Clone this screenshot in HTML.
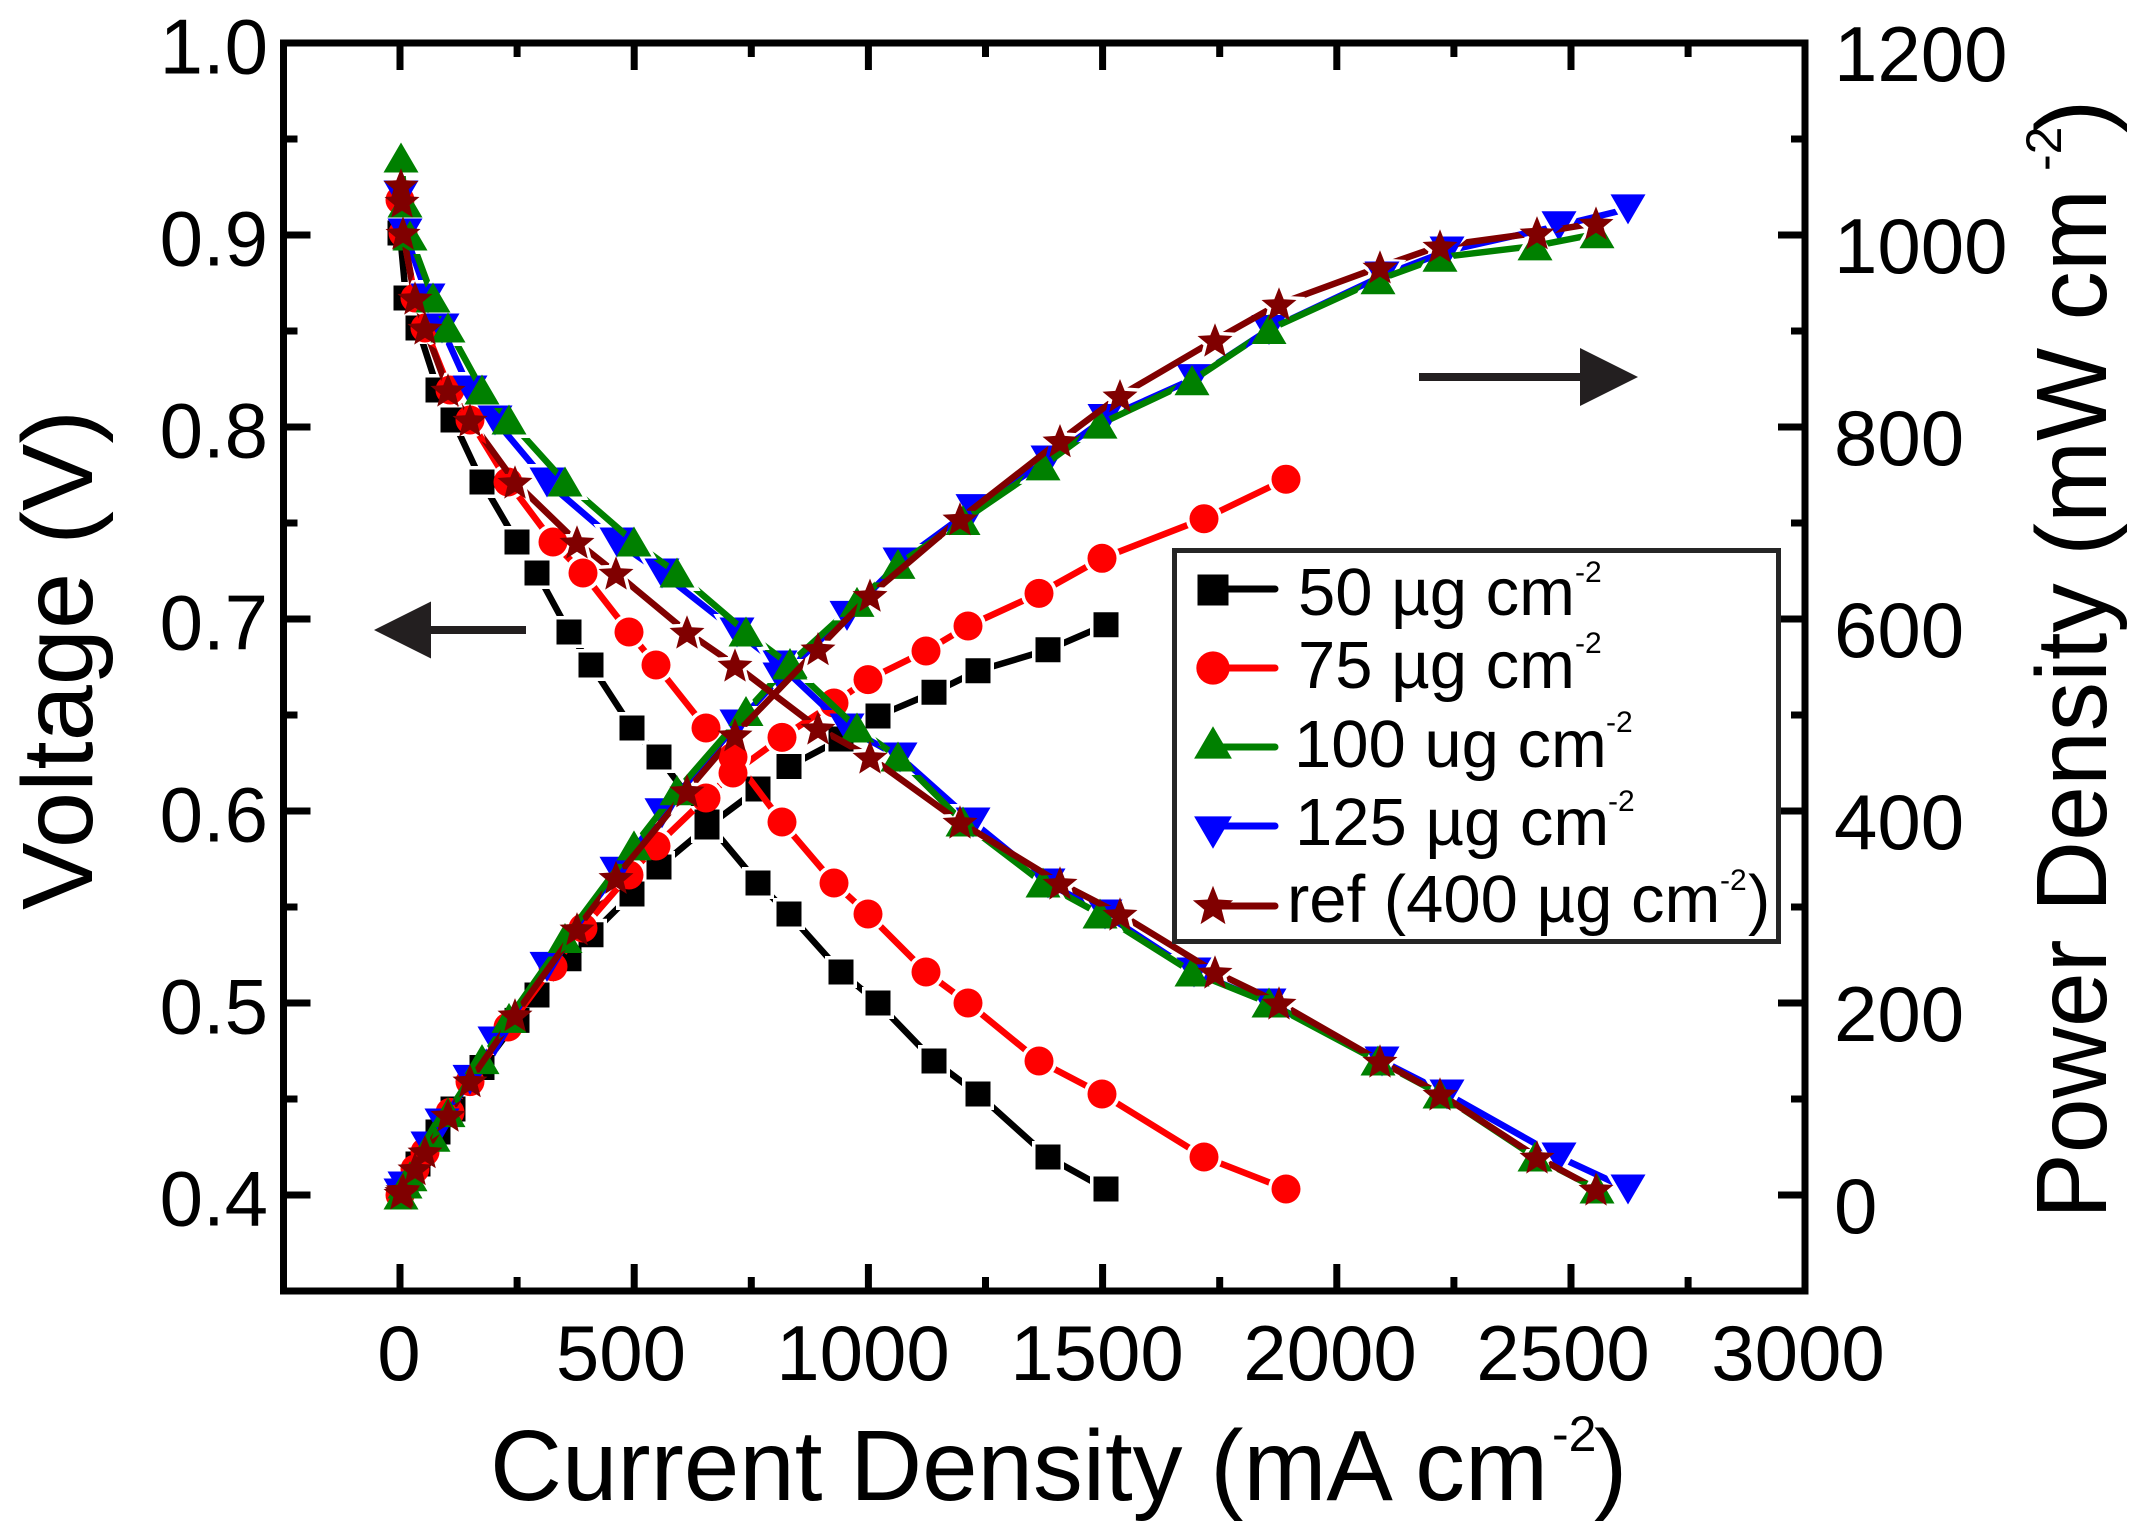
<!DOCTYPE html>
<html>
<head>
<meta charset="utf-8">
<style>
html,body{margin:0;padding:0;background:#fff;}
svg{display:block;}
</style>
</head>
<body>
<svg width="2142" height="1537" viewBox="0 0 2142 1537" xmlns="http://www.w3.org/2000/svg" xmlns:xlink="http://www.w3.org/1999/xlink" font-family="'Liberation Sans', Arial, sans-serif">
<rect width="2142" height="1537" fill="#fff"/>
<defs>
  <path id="sq" d="M-12.5,-12.5h25v25h-25z"/>
  <circle id="ci" cx="0" cy="0" r="14.5"/>
  <path id="tu" d="M0,-15.5L17.5,14.5L-17.5,14.5Z"/>
  <path id="td" d="M0,15.5L17.5,-14.5L-17.5,-14.5Z"/>
  <path id="st" d="M0,-16.7L4.7,-4.77L17.5,-3.99L7.61,4.17L10.82,16.59L0,9.7L-10.82,16.59L-7.61,4.17L-17.5,-3.99L-4.7,-4.77Z"/>

  <g id="mk0">
    <use href="#sq" x="400" y="233"/><use href="#sq" x="406" y="298"/><use href="#sq" x="418" y="328"/><use href="#sq" x="438" y="390"/><use href="#sq" x="453" y="420"/><use href="#sq" x="482" y="482"/><use href="#sq" x="517" y="542"/><use href="#sq" x="537" y="573"/><use href="#sq" x="569" y="632"/><use href="#sq" x="591" y="665"/><use href="#sq" x="632" y="728"/><use href="#sq" x="659" y="757"/><use href="#sq" x="707" y="822"/><use href="#sq" x="758" y="883"/><use href="#sq" x="789" y="914"/><use href="#sq" x="841" y="972"/><use href="#sq" x="878" y="1003"/><use href="#sq" x="934" y="1061"/><use href="#sq" x="978" y="1094"/><use href="#sq" x="1048" y="1157"/><use href="#sq" x="1106" y="1189"/>
    <use href="#sq" x="400" y="1195"/><use href="#sq" x="406" y="1184.5"/><use href="#sq" x="418" y="1164"/><use href="#sq" x="438" y="1132"/><use href="#sq" x="453" y="1109"/><use href="#sq" x="482" y="1067.5"/><use href="#sq" x="517" y="1020.4"/><use href="#sq" x="537" y="995"/><use href="#sq" x="569" y="958.8"/><use href="#sq" x="591" y="934.7"/><use href="#sq" x="632" y="894"/><use href="#sq" x="659" y="867"/><use href="#sq" x="707" y="827"/><use href="#sq" x="758" y="789"/><use href="#sq" x="789" y="766.5"/><use href="#sq" x="841" y="739"/><use href="#sq" x="878" y="716"/><use href="#sq" x="934" y="692.3"/><use href="#sq" x="978" y="670.8"/><use href="#sq" x="1048" y="649.8"/><use href="#sq" x="1106" y="624.7"/>
  </g>

  <g id="mk1">
    <use href="#ci" x="400" y="200"/><use href="#ci" x="403" y="233"/><use href="#ci" x="415" y="298"/><use href="#ci" x="425" y="328"/><use href="#ci" x="450" y="390"/><use href="#ci" x="470" y="420"/><use href="#ci" x="508" y="482"/><use href="#ci" x="553" y="542"/><use href="#ci" x="583" y="573"/><use href="#ci" x="629" y="632"/><use href="#ci" x="656" y="665"/><use href="#ci" x="706" y="728"/><use href="#ci" x="733" y="757"/><use href="#ci" x="782" y="822"/><use href="#ci" x="834" y="883"/><use href="#ci" x="868" y="914"/><use href="#ci" x="926" y="972"/><use href="#ci" x="968" y="1003"/><use href="#ci" x="1039" y="1061"/><use href="#ci" x="1102" y="1094"/><use href="#ci" x="1204" y="1157"/><use href="#ci" x="1286" y="1189"/>
    <use href="#ci" x="400" y="1195"/><use href="#ci" x="403" y="1189.5"/><use href="#ci" x="415" y="1169"/><use href="#ci" x="425" y="1152"/><use href="#ci" x="450" y="1112.4"/><use href="#ci" x="470" y="1081.6"/><use href="#ci" x="508" y="1027"/><use href="#ci" x="553" y="966.7"/><use href="#ci" x="583" y="928"/><use href="#ci" x="629" y="875"/><use href="#ci" x="656" y="846"/><use href="#ci" x="706" y="798"/><use href="#ci" x="733" y="773"/><use href="#ci" x="782" y="737.4"/><use href="#ci" x="834" y="703"/><use href="#ci" x="868" y="679.6"/><use href="#ci" x="926" y="651"/><use href="#ci" x="968" y="626"/><use href="#ci" x="1039" y="593.4"/><use href="#ci" x="1102" y="558.3"/><use href="#ci" x="1204" y="518.7"/><use href="#ci" x="1286" y="479.2"/>
  </g>

  <g id="mk2">
    <use href="#td" x="401" y="195"/><use href="#td" x="405" y="233"/><use href="#td" x="428" y="298"/><use href="#td" x="442" y="328"/><use href="#td" x="470" y="390"/><use href="#td" x="495" y="420"/><use href="#td" x="547" y="482"/><use href="#td" x="617" y="542"/><use href="#td" x="662" y="573"/><use href="#td" x="737" y="632"/><use href="#td" x="780" y="665"/><use href="#td" x="847" y="728"/><use href="#td" x="900" y="757"/><use href="#td" x="973" y="822"/><use href="#td" x="1048" y="883"/><use href="#td" x="1105" y="914"/><use href="#td" x="1194" y="972"/><use href="#td" x="1269" y="1003"/><use href="#td" x="1382" y="1061"/><use href="#td" x="1447" y="1094"/><use href="#td" x="1559" y="1157"/><use href="#td" x="1628" y="1189"/>
    <use href="#td" x="401" y="1193"/><use href="#td" x="405" y="1186"/><use href="#td" x="428" y="1146"/><use href="#td" x="442" y="1123"/><use href="#td" x="470" y="1079.4"/><use href="#td" x="495" y="1041"/><use href="#td" x="547" y="966.4"/><use href="#td" x="617" y="871.3"/><use href="#td" x="662" y="812.7"/><use href="#td" x="737" y="724"/><use href="#td" x="780" y="677"/><use href="#td" x="847" y="615.4"/><use href="#td" x="900" y="562"/><use href="#td" x="973" y="508.6"/><use href="#td" x="1048" y="460"/><use href="#td" x="1105" y="418.5"/><use href="#td" x="1194" y="378.6"/><use href="#td" x="1269" y="329.5"/><use href="#td" x="1382" y="276"/><use href="#td" x="1447" y="251"/><use href="#td" x="1559" y="225.8"/><use href="#td" x="1628" y="208.9"/>
  </g>

  <g id="mk3">
    <use href="#tu" x="401" y="158"/><use href="#tu" x="405" y="203"/><use href="#tu" x="410" y="236"/><use href="#tu" x="433" y="298"/><use href="#tu" x="448" y="328"/><use href="#tu" x="482" y="390"/><use href="#tu" x="509" y="420"/><use href="#tu" x="565" y="482"/><use href="#tu" x="634" y="542"/><use href="#tu" x="677" y="573"/><use href="#tu" x="746" y="632"/><use href="#tu" x="790" y="665"/><use href="#tu" x="857" y="728"/><use href="#tu" x="898" y="757"/><use href="#tu" x="963" y="822"/><use href="#tu" x="1043" y="883"/><use href="#tu" x="1100" y="914"/><use href="#tu" x="1192" y="972"/><use href="#tu" x="1269" y="1003"/><use href="#tu" x="1378" y="1061"/><use href="#tu" x="1440" y="1094"/><use href="#tu" x="1535" y="1157"/><use href="#tu" x="1597" y="1189"/>
    <use href="#tu" x="401" y="1195"/><use href="#tu" x="405" y="1184"/><use href="#tu" x="410" y="1176.8"/><use href="#tu" x="433" y="1137.3"/><use href="#tu" x="448" y="1112.6"/><use href="#tu" x="482" y="1059.6"/><use href="#tu" x="509" y="1018.4"/><use href="#tu" x="565" y="938.5"/><use href="#tu" x="634" y="845.9"/><use href="#tu" x="677" y="790.7"/><use href="#tu" x="746" y="711.5"/><use href="#tu" x="790" y="663.5"/><use href="#tu" x="857" y="602.4"/><use href="#tu" x="898" y="564.4"/><use href="#tu" x="963" y="520.5"/><use href="#tu" x="1043" y="465.9"/><use href="#tu" x="1100" y="424.1"/><use href="#tu" x="1192" y="380.7"/><use href="#tu" x="1269" y="329.5"/><use href="#tu" x="1378" y="279.8"/><use href="#tu" x="1440" y="257.3"/><use href="#tu" x="1535" y="245.9"/><use href="#tu" x="1597" y="233.8"/>
  </g>

  <g id="mk4">
    <use href="#st" x="401" y="185"/><use href="#st" x="402" y="201"/><use href="#st" x="403" y="233"/><use href="#st" x="415" y="298"/><use href="#st" x="425" y="328"/><use href="#st" x="448" y="390"/><use href="#st" x="470" y="420"/><use href="#st" x="515" y="482"/><use href="#st" x="577" y="542"/><use href="#st" x="616" y="573"/><use href="#st" x="687" y="632"/><use href="#st" x="735" y="665"/><use href="#st" x="818" y="728"/><use href="#st" x="870" y="757"/><use href="#st" x="960" y="822"/><use href="#st" x="1060" y="883"/><use href="#st" x="1120" y="914"/><use href="#st" x="1215" y="972"/><use href="#st" x="1279" y="1003"/><use href="#st" x="1380" y="1061"/><use href="#st" x="1440" y="1094"/><use href="#st" x="1537" y="1157"/><use href="#st" x="1596" y="1189"/>
    <use href="#st" x="401" y="1193"/><use href="#st" x="402" y="1191.3"/><use href="#st" x="403" y="1189.5"/><use href="#st" x="415" y="1168.6"/><use href="#st" x="425" y="1151.7"/><use href="#st" x="448" y="1115.1"/><use href="#st" x="470" y="1080.7"/><use href="#st" x="515" y="1014.8"/><use href="#st" x="577" y="928.8"/><use href="#st" x="616" y="877.3"/><use href="#st" x="687" y="790.8"/><use href="#st" x="735" y="734.8"/><use href="#st" x="818" y="648.7"/><use href="#st" x="870" y="595.2"/><use href="#st" x="960" y="518.8"/><use href="#st" x="1060" y="440.7"/><use href="#st" x="1120" y="395.7"/><use href="#st" x="1215" y="340"/><use href="#st" x="1279" y="304"/><use href="#st" x="1380" y="266.9"/><use href="#st" x="1440" y="246"/><use href="#st" x="1537" y="232.8"/><use href="#st" x="1596" y="223.1"/>
  </g>

  <mask id="m0" maskUnits="userSpaceOnUse" x="0" y="0" width="2142" height="1537"><rect width="2142" height="1537" fill="#fff"/><use href="#mk0" fill="#000" stroke="#000" stroke-width="7"/></mask>
  <mask id="m1" maskUnits="userSpaceOnUse" x="0" y="0" width="2142" height="1537"><rect width="2142" height="1537" fill="#fff"/><use href="#mk1" fill="#000" stroke="#000" stroke-width="7"/></mask>
  <mask id="m2" maskUnits="userSpaceOnUse" x="0" y="0" width="2142" height="1537"><rect width="2142" height="1537" fill="#fff"/><use href="#mk2" fill="#000" stroke="#000" stroke-width="7"/></mask>
  <mask id="m3" maskUnits="userSpaceOnUse" x="0" y="0" width="2142" height="1537"><rect width="2142" height="1537" fill="#fff"/><use href="#mk3" fill="#000" stroke="#000" stroke-width="7"/></mask>
  <mask id="m4" maskUnits="userSpaceOnUse" x="0" y="0" width="2142" height="1537"><rect width="2142" height="1537" fill="#fff"/><use href="#mk4" fill="#000" stroke="#000" stroke-width="7"/></mask>
</defs>

<!-- Series 50 (black) -->
<g mask="url(#m0)" fill="none" stroke="#000" stroke-width="6.5" stroke-linejoin="round">
  <polyline points="400,233 406,298 418,328 438,390 453,420 482,482 517,542 537,573 569,632 591,665 632,728 659,757 707,822 758,883 789,914 841,972 878,1003 934,1061 978,1094 1048,1157 1106,1189"/>
  <polyline points="400,1195 406,1184.5 418,1164 438,1132 453,1109 482,1067.5 517,1020.4 537,995 569,958.8 591,934.7 632,894 659,867 707,827 758,789 789,766.5 841,739 878,716 934,692.3 978,670.8 1048,649.8 1106,624.7"/>
</g>
<use href="#mk0" fill="#000"/>

<!-- Series 75 (red) -->
<g mask="url(#m1)" fill="none" stroke="#ff0000" stroke-width="6.5" stroke-linejoin="round">
  <polyline points="400,200 403,233 415,298 425,328 450,390 470,420 508,482 553,542 583,573 629,632 656,665 706,728 733,757 782,822 834,883 868,914 926,972 968,1003 1039,1061 1102,1094 1204,1157 1286,1189"/>
  <polyline points="400,1195 403,1189.5 415,1169 425,1152 450,1112.4 470,1081.6 508,1027 553,966.7 583,928 629,875 656,846 706,798 733,773 782,737.4 834,703 868,679.6 926,651 968,626 1039,593.4 1102,558.3 1204,518.7 1286,479.2"/>
</g>
<use href="#mk1" fill="#ff0000"/>

<!-- Series 125 (blue) -->
<g mask="url(#m2)" fill="none" stroke="#0000ff" stroke-width="6.5" stroke-linejoin="round">
  <polyline points="401,195 405,233 428,298 442,328 470,390 495,420 547,482 617,542 662,573 737,632 780,665 847,728 900,757 973,822 1048,883 1105,914 1194,972 1269,1003 1382,1061 1447,1094 1559,1157 1628,1189"/>
  <polyline points="401,1193 405,1186 428,1146 442,1123 470,1079.4 495,1041 547,966.4 617,871.3 662,812.7 737,724 780,677 847,615.4 900,562 973,508.6 1048,460 1105,418.5 1194,378.6 1269,329.5 1382,276 1447,251 1559,225.8 1628,208.9"/>
</g>
<use href="#mk2" fill="#0000ff"/>

<!-- Series 100 (green) -->
<g mask="url(#m3)" fill="none" stroke="#008000" stroke-width="6.5" stroke-linejoin="round">
  <polyline points="401,158 405,203 410,236 433,298 448,328 482,390 509,420 565,482 634,542 677,573 746,632 790,665 857,728 898,757 963,822 1043,883 1100,914 1192,972 1269,1003 1378,1061 1440,1094 1535,1157 1597,1189"/>
  <polyline points="401,1195 405,1184 410,1176.8 433,1137.3 448,1112.6 482,1059.6 509,1018.4 565,938.5 634,845.9 677,790.7 746,711.5 790,663.5 857,602.4 898,564.4 963,520.5 1043,465.9 1100,424.1 1192,380.7 1269,329.5 1378,279.8 1440,257.3 1535,245.9 1597,233.8"/>
</g>
<use href="#mk3" fill="#008000"/>

<!-- Series ref (brown) -->
<g mask="url(#m4)" fill="none" stroke="#800000" stroke-width="6.5" stroke-linejoin="round">
  <polyline points="401,185 402,201 403,233 415,298 425,328 448,390 470,420 515,482 577,542 616,573 687,632 735,665 818,728 870,757 960,822 1060,883 1120,914 1215,972 1279,1003 1380,1061 1440,1094 1537,1157 1596,1189"/>
  <polyline points="401,1193 402,1191.3 403,1189.5 415,1168.6 425,1151.7 448,1115.1 470,1080.7 515,1014.8 577,928.8 616,877.3 687,790.8 735,734.8 818,648.7 870,595.2 960,518.8 1060,440.7 1120,395.7 1215,340 1279,304 1380,266.9 1440,246 1537,232.8 1596,223.1"/>
</g>
<use href="#mk4" fill="#800000"/>

<!-- Frame -->
<rect x="283.5" y="43" width="1521.5" height="1248" fill="none" stroke="#000" stroke-width="7"/>

<!-- Ticks -->
<path fill="none" stroke="#000" stroke-width="7" d="
M400,1291V1264 M634.2,1291V1264 M868.4,1291V1264 M1102.6,1291V1264 M1336.8,1291V1264 M1571,1291V1264
M517.1,1291V1277 M751.3,1291V1277 M985.5,1291V1277 M1219.7,1291V1277 M1453.9,1291V1277 M1688.1,1291V1277
M400,43V70 M634.2,43V70 M868.4,43V70 M1102.6,43V70 M1336.8,43V70 M1571,43V70
M517.1,43V57 M751.3,43V57 M985.5,43V57 M1219.7,43V57 M1453.9,43V57 M1688.1,43V57
M283.5,235H310.5 M283.5,427H310.5 M283.5,619H310.5 M283.5,811H310.5 M283.5,1003H310.5 M283.5,1195H310.5
M283.5,139H297.5 M283.5,331H297.5 M283.5,523H297.5 M283.5,715H297.5 M283.5,907H297.5 M283.5,1099H297.5
M1805,235H1778 M1805,427H1778 M1805,619H1778 M1805,811H1778 M1805,1003H1778 M1805,1195H1778
M1805,139H1791 M1805,331H1791 M1805,523H1791 M1805,715H1791 M1805,907H1791 M1805,1099H1791"/>

<!-- Left tick labels -->
<g font-size="78" fill="#000" text-anchor="end">
  <text x="268" y="73.5">1.0</text>
  <text x="268" y="265.5">0.9</text>
  <text x="268" y="457.5">0.8</text>
  <text x="268" y="649.5">0.7</text>
  <text x="268" y="841.5">0.6</text>
  <text x="268" y="1033.5">0.5</text>
  <text x="268" y="1225.5">0.4</text>
</g>
<!-- Right tick labels -->
<g font-size="78" fill="#000" text-anchor="start">
  <text x="1834" y="81">1200</text>
  <text x="1834" y="273">1000</text>
  <text x="1834" y="465">800</text>
  <text x="1834" y="657">600</text>
  <text x="1834" y="849">400</text>
  <text x="1834" y="1041">200</text>
  <text x="1834" y="1233">0</text>
</g>
<!-- Bottom tick labels -->
<g font-size="78" fill="#000" text-anchor="middle">
  <text x="399" y="1380">0</text>
  <text x="621" y="1380">500</text>
  <text x="863" y="1380">1000</text>
  <text x="1097" y="1380">1500</text>
  <text x="1330" y="1380">2000</text>
  <text x="1563" y="1380">2500</text>
  <text x="1798" y="1380">3000</text>
</g>

<!-- Axis titles -->
<text x="490" y="1500" font-size="100" textLength="1058" lengthAdjust="spacingAndGlyphs" fill="#000">Current Density (mA cm</text>
<text x="1552" y="1451" font-size="50" fill="#000">-2</text>
<text x="1594" y="1500" font-size="100" fill="#000">)</text>

<text transform="translate(92,910) rotate(-90)" font-size="100" textLength="500" lengthAdjust="spacingAndGlyphs" fill="#000">Voltage (V)</text>

<text transform="translate(2106,1219) rotate(-90)" font-size="100" textLength="1030" lengthAdjust="spacingAndGlyphs" fill="#000">Power Density (mW cm</text>
<text transform="translate(2061,171) rotate(-90)" font-size="50" fill="#000">-2</text>
<text transform="translate(2106,133) rotate(-90)" font-size="100" fill="#000">)</text>

<!-- Arrows -->
<g fill="#231f20">
  <polygon points="374,630 431,601.5 431,658.5"/>
  <rect x="428" y="626" width="98" height="8"/>
  <polygon points="1638,377 1580,348 1580,406"/>
  <rect x="1419" y="373" width="163" height="8"/>
</g>

<!-- Legend -->
<rect x="1174.5" y="550.5" width="604" height="391" fill="#fff" stroke="#262626" stroke-width="5"/>
<g stroke-width="7" stroke-linecap="round">
  <line x1="1215" y1="589" x2="1275" y2="589" stroke="#000"/>
  <line x1="1215" y1="668" x2="1275" y2="668" stroke="#ff0000"/>
  <line x1="1215" y1="747" x2="1275" y2="747" stroke="#008000"/>
  <line x1="1215" y1="826" x2="1275" y2="826" stroke="#0000ff"/>
  <line x1="1215" y1="906" x2="1275" y2="906" stroke="#800000"/>
</g>
<use href="#sq" transform="translate(1213,590) scale(1.24)" fill="#000"/>
<use href="#ci" transform="translate(1213,668) scale(1.15)" fill="#ff0000"/>
<use href="#tu" transform="translate(1213,743) scale(1.08)" fill="#008000"/>
<use href="#td" transform="translate(1213,832) scale(1.08)" fill="#0000ff"/>
<use href="#st" transform="translate(1213,905) scale(1.15)" fill="#800000"/>

<g font-size="67" fill="#000">
  <text x="1298" y="615">50 µg cm</text>
  <text x="1298" y="688">75 µg cm</text>
  <text x="1294" y="767">100 ug cm</text>
  <text x="1295" y="845">125 µg cm</text>
  <text x="1287" y="922">ref (400 µg cm</text>
  <text x="1748" y="922">)</text>
</g>
<g font-size="30" fill="#000">
  <text x="1575" y="582">-2</text>
  <text x="1575" y="653">-2</text>
  <text x="1606" y="732">-2</text>
  <text x="1608" y="811">-2</text>
  <text x="1720" y="890">-2</text>
</g>
</svg>
</body>
</html>
